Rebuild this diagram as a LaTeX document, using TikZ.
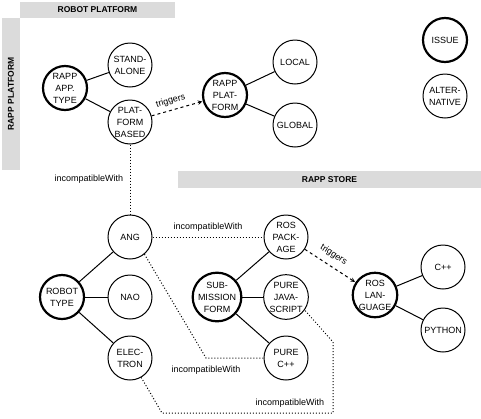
\documentclass[tikz,border=0pt]{standalone}
\usepackage{fontspec}
\setmainfont{Liberation Sans}
\usetikzlibrary{positioning}

\begin{document}
\begin{tikzpicture}[x=1pt,y=-1pt,>=stealth,node distance=60pt,
      issue node/.style={circle,draw,line width=2.2pt,minimum size=44pt,inner sep=0pt,align=center,
        font=\fontsize{9}{12}\selectfont},
      alt node/.style={issue node,line width=1pt},
      bar/.style={fill=black!14,inner sep=0pt,font=\fontsize{8.5}{10}\selectfont\bfseries},
      link/.style={line width=1pt},
      incompat/.style={dotted,line width=1pt},
      trig/.style={->,dashed,line width=1pt,shorten >=0.5pt},
      lbl/.style={font=\fontsize{9}{10}\selectfont}]
      \useasboundingbox (0,0) rectangle (481,418);

      % grey headers
      \node[bar,minimum width=155pt,minimum height=16pt] (robotbar) at (97.5,10) {ROBOT PLATFORM};
      \node[bar,minimum width=152pt,minimum height=18pt,rotate=90] (rappbar) at (11,94) {RAPP PLATFORM};
      \node[bar,minimum width=303pt,minimum height=17pt] (storebar) at (329.5,179.5) {RAPP STORE};

      % robot platform part
      \node[issue node] (apptype) at (65,88) {RAPP\\APP.\\TYPE};
      \node[alt node,on grid] (standalone) [above right=23pt and 65pt of apptype] {STAND-\\ALONE};
      \node[alt node,on grid] (platbased) [below right=34pt and 65pt of apptype] {PLAT-\\FORM\\BASED};
      \node[issue node] (rappplat) at (225,95) {RAPP\\PLAT-\\FORM};
      \node[alt node,on grid] (local) [above right=33pt and 70pt of rappplat] {LOCAL};
      \node[alt node,on grid] (global) [below right=30pt and 70pt of rappplat] {GLOBAL};

      % legend
      \node[issue node] (issue) at (445,40) {ISSUE};
      \node[alt node,on grid] (alternative) [below=56pt of issue] {ALTER-\\NATIVE};

      % rapp store part
      \node[issue node] (robottype) at (62,297) {ROBOT\\TYPE};
      \node[alt node,on grid] (nao) [right=68pt of robottype] {NAO};
      \node[alt node,on grid] (ang) [above=60pt of nao] {ANG};
      \node[alt node,on grid] (electron) [below=61pt of nao] {ELEC-\\TRON};
      \node[issue node] (submission) at (217,297) {SUB-\\MISSION\\FORM};
      \node[alt node,on grid] (purejs) [right=69pt of submission] {PURE\\JAVA-\\SCRIPT};
      \node[alt node,on grid] (rospkg) [above=60pt of purejs] {ROS\\PACK-\\AGE};
      \node[alt node,on grid] (purecpp) [below=61pt of purejs] {PURE\\C++};
      \node[issue node] (roslang) at (375,295) {ROS\\LAN-\\GUAGE};
      \node[alt node,on grid] (cpp) [above right=28pt and 68pt of roslang] {C++};
      \node[alt node,on grid] (python) [below right=35pt and 68pt of roslang] {PYTHON};

      \coordinate (angbend) at (206,358);
      \coordinate (elecbend) at (162,413);
      \coordinate (jscorner) at (333,413);
      \coordinate (jsup) at (333,342);

      \path[link]
        (apptype) edge (standalone)
        (apptype) edge (platbased)
        (rappplat) edge (local)
        (rappplat) edge (global)
        (robottype) edge (ang)
        (robottype) edge (nao)
        (robottype) edge (electron)
        (submission) edge (rospkg)
        (submission) edge (purejs)
        (submission) edge (purecpp)
        (roslang) edge (cpp)
        (roslang) edge (python);

      \path[trig]
        (platbased) edge node[lbl,above=1pt,sloped,pos=0.42] {triggers} (rappplat)
        (rospkg) edge node[lbl,above=3pt,sloped,pos=0.45] {triggers} (roslang);

      \draw[incompat] (platbased) -- node[lbl,left=3pt] {incompatibleWith} (ang);
      \draw[incompat] (ang) -- node[lbl,above=2pt] {incompatibleWith} (rospkg);
      \draw[incompat] (ang.-50) -- (angbend) node[lbl,below=4pt] {incompatibleWith} -- (purecpp);
      \draw[incompat] (electron.-60) -- (elecbend) -- (jscorner)
        node[lbl,above left=2pt and 5pt] {incompatibleWith} -- (jsup) -- (purejs.-35);
    \end{tikzpicture}
\end{document}
